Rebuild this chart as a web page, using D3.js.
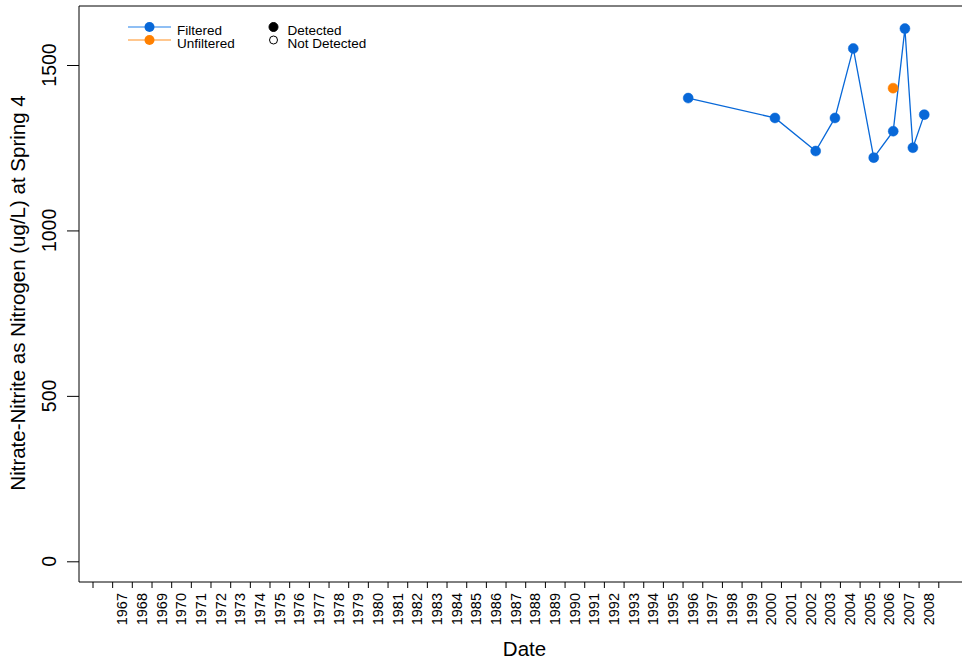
<!DOCTYPE html>
<html><head><meta charset="utf-8">
<script src="https://cdn.jsdelivr.net/npm/d3@7"></script>
<style>body{margin:0;background:#fff}svg{display:block;font-family:"Liberation Sans",Arial,Helvetica,sans-serif}</style>
</head><body>
<svg id="c" width="962" height="661"></svg>
<script>
const filteredDates = ["1996-04-15","2000-09-12","2002-10-08","2003-10-01","2004-09-05","2005-09-20","2006-09-17","2007-04-22","2007-09-17","2008-04-15"];
const filteredValues = [1400,1340,1240,1340,1550,1220,1300,1610,1250,1350];
const filteredDetected = [true,true,true,true,true,true,true,true,true,true];
const unfilteredDates = ["2006-09-14"];
const unfilteredValues = [1430];
const unfilteredDetected = [true];
const yTicks = [0,500,1000,1500];
const tickYears = d3.range(1966, 2010);
const labelYears = d3.range(1967, 2009);
const legendSeries = ["Filtered","Unfiltered"];
const legendDetect = ["Detected","Not Detected"];
const yTitle = "Nitrate-Nitrite as Nitrogen (ug/L) at Spring 4";
const xTitle = "Date";

(function(){
const blue = "#0868d8", orange = "#ff8000";
const blueLight = "#6aaaf0", orangeLight = "#ffb46a";

const svg = d3.select("#c");
const pLeft = 79, pTop = 6, pBottom = 582;
const pd = d3.utcParse("%Y-%m-%d");
const x = d3.scaleUtc().domain([Date.UTC(1966,0,1), Date.UTC(2009,0,1)]).range([92.5, 938.3]);
const y = d3.scaleLinear().domain([0,1500]).range([561.3, 65]);

// box
svg.append("path").attr("d", `M${pLeft},${pBottom}V${pTop}H${965}M${pLeft},${pBottom}H${965}`)
  .attr("fill","none").attr("stroke","#000").attr("stroke-width",1);

// x axis ticks
const xAxis = d3.axisBottom(x).tickValues(tickYears.map(yr => new Date(Date.UTC(yr,0,1)))).tickSize(6).tickFormat("");
const gx = svg.append("g").attr("transform",`translate(0,${pBottom})`).call(xAxis);
gx.select(".domain").remove();
gx.selectAll("line").attr("stroke","#000");
// x labels at mid-year
svg.append("g").selectAll("text").data(labelYears).join("text")
  .attr("transform", d => `translate(${x(Date.UTC(d,6,1)) + 5.3},593) rotate(-90)`)
  .attr("text-anchor","end").attr("font-size",14.5).attr("fill","#000").text(d => d);

// y axis
const yAxis = d3.axisLeft(y).tickValues(yTicks).tickSize(12).tickFormat("");
const gy = svg.append("g").attr("transform",`translate(${pLeft},0)`).call(yAxis);
gy.select(".domain").remove();
gy.selectAll("line").attr("stroke","#000");
svg.append("g").selectAll("text").data(yTicks).join("text")
  .attr("transform", d => `translate(55.5,${y(d)}) rotate(-90)`)
  .attr("text-anchor","middle").attr("font-size",19.5).attr("fill","#000").text(d => d);

// titles
svg.append("text").attr("transform","translate(25,293) rotate(-90)").attr("text-anchor","middle")
  .attr("font-size",20.5).text(yTitle);
svg.append("text").attr("x",524.5).attr("y",656).attr("text-anchor","middle").attr("font-size",20.5).text(xTitle);

// data
const fData = filteredDates.map((d,i) => ({date: pd(d), v: filteredValues[i], det: filteredDetected[i]}));
const uData = unfilteredDates.map((d,i) => ({date: pd(d), v: unfilteredValues[i], det: unfilteredDetected[i]}));
const line = d3.line().x(d => x(d.date)).y(d => y(d.v));
svg.append("path").datum(fData).attr("d", line).attr("fill","none").attr("stroke",blue).attr("stroke-width",1.3);
svg.append("path").datum(uData).attr("d", line).attr("fill","none").attr("stroke",orange).attr("stroke-width",1.3);
svg.append("g").selectAll("circle").data(fData).join("circle")
  .attr("cx", d => x(d.date)).attr("cy", d => y(d.v)).attr("r",5)
  .attr("fill", d => d.det ? blue : "#fff").attr("stroke", blue).attr("stroke-width", 0.5);
svg.append("g").selectAll("circle").data(uData).join("circle")
  .attr("cx", d => x(d.date)).attr("cy", d => y(d.v)).attr("r",5)
  .attr("fill", d => d.det ? orange : "#fff").attr("stroke", orange).attr("stroke-width", 0.5);

// legend
const lg = svg.append("g");
const lcol = [[blue, blueLight],[orange, orangeLight]];
legendSeries.forEach((s,i) => {
  const yy = 27 + i*13;
  lg.append("line").attr("x1",128).attr("x2",171).attr("y1",yy).attr("y2",yy).attr("stroke",lcol[i][1]).attr("stroke-width",1.5);
  lg.append("circle").attr("cx",149.5).attr("cy",yy).attr("r",5).attr("fill",lcol[i][0]);
  lg.append("text").attr("x",177).attr("y",yy+7.5).attr("font-size",13.5).text(s);
});
legendDetect.forEach((s,i) => {
  const yy = 27 + i*13;
  lg.append("circle").attr("cx",273.5).attr("cy",yy).attr("r", i===0 ? 4.5 : 4)
    .attr("fill", i===0 ? "#000" : "#fff").attr("stroke","#000").attr("stroke-width",1);
  lg.append("text").attr("x",287.5).attr("y",yy+7.5).attr("font-size",13.5).text(s);
});
})();
</script>
</body></html>
